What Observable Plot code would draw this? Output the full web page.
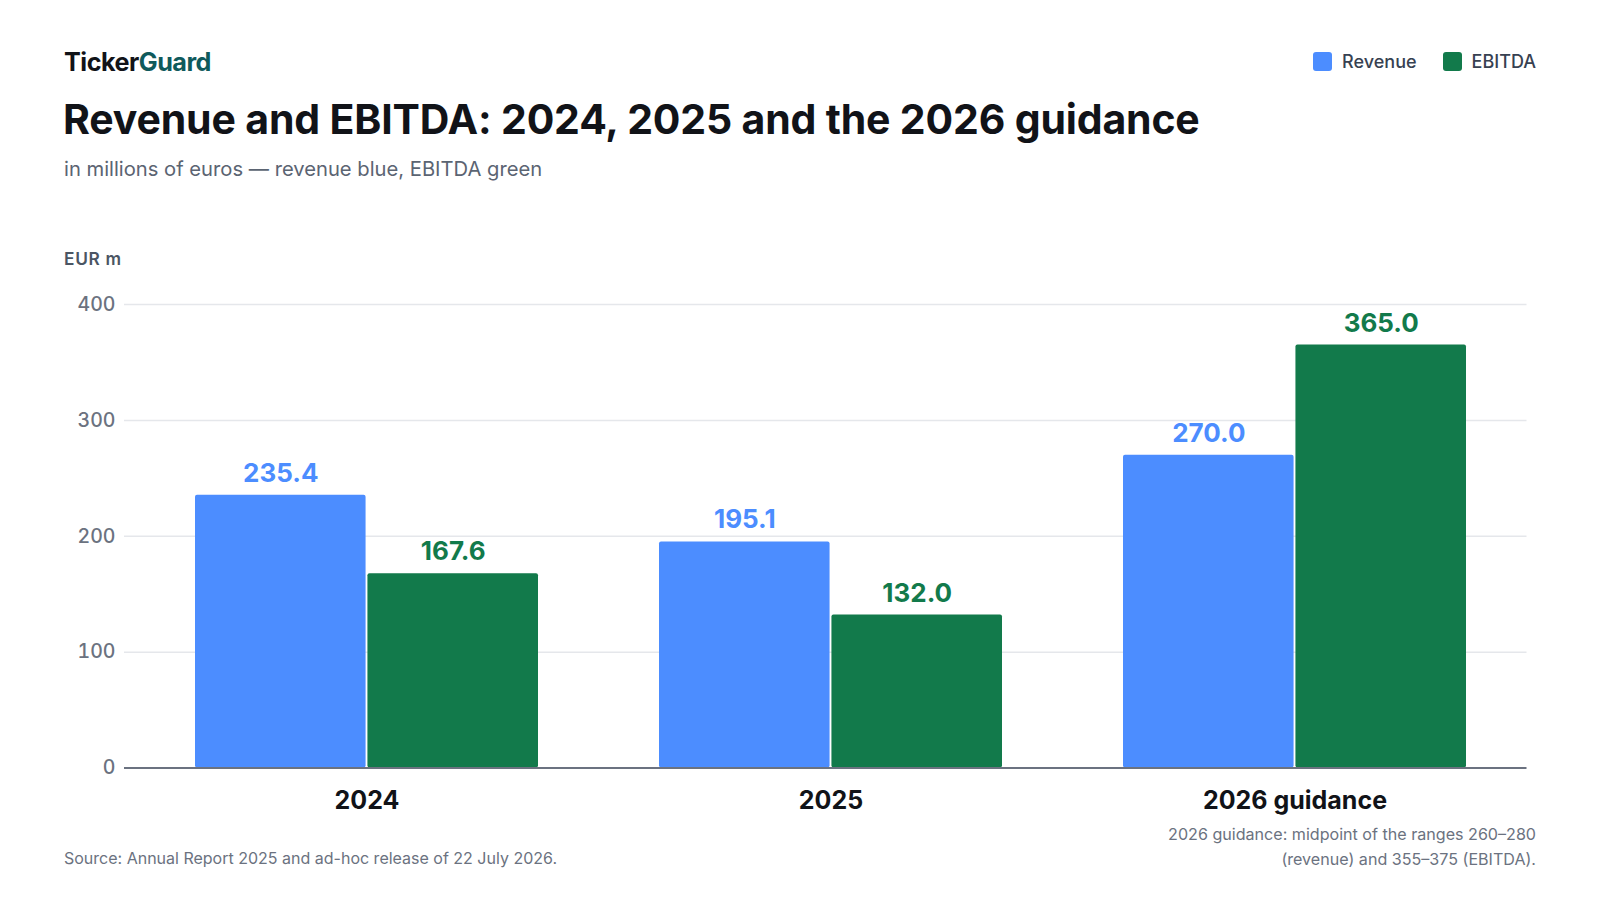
<!DOCTYPE html>
<html>
<head>
<meta charset="utf-8">
<script src="https://cdn.jsdelivr.net/npm/d3@7"></script>
<script src="https://cdn.jsdelivr.net/npm/@observablehq/plot@0.6"></script>
<style>
  html, body { margin: 0; padding: 0; background: #fff; }
  body { font-family: Inter, "Noto Sans", sans-serif; }
  #page { position: relative; width: 1600px; height: 900px; overflow: hidden; background: #fff; }
  .abs { position: absolute; white-space: nowrap; }
  #brand { left: 64px; top: 47px; font-size: 25.2px; font-weight: 700; color: #111318; letter-spacing: -0.02em; }
  #brand span { color: #0f5a5c; }
  #title { left: 63px; top: 94px; font-size: 41px; font-weight: 700; color: #111318; letter-spacing: -0.004em; }
  #subtitle { left: 64px; top: 156px; font-size: 20.2px; color: #5b6472; }
  #unit { left: 64px; top: 248px; font-size: 17.3px; font-weight: 600; color: #4b5563; letter-spacing: 0.04em; }
  #legend { right: 64px; top: 51px; display: flex; align-items: center; font-size: 18px; font-weight: 500; color: #374151; }
  .sw { width: 19px; height: 19px; border-radius: 3px; display: inline-block; margin-right: 10px; }
  .li { display: flex; align-items: center; }
  .li + .li { margin-left: 26px; }
  #source { left: 64px; top: 848px; font-size: 16px; color: #6b7280; }
  #note { right: 64px; top: 822px; font-size: 16.1px; color: #6b7280; text-align: right; line-height: 25px; }
  #chart { position: absolute; left: 0; top: 270px; }
</style>
</head>
<body>
<div id="page">
  <div id="brand" class="abs">Ticker<span>Guard</span></div>
  <div id="title" class="abs">Revenue and EBITDA: 2024, 2025 and the 2026 guidance</div>
  <div id="subtitle" class="abs">in millions of euros — revenue blue, EBITDA green</div>
  <div id="legend" class="abs"></div>
  <div id="unit" class="abs">EUR m</div>
  <div id="chart"></div>
  <div id="source" class="abs">Source: Annual Report 2025 and ad-hoc release of 22 July 2026.</div>
  <div id="note" class="abs">2026 guidance: midpoint of the ranges 260–280<br>(revenue) and 355–375 (EBITDA).</div>
</div>
<script>
// ---- data ----
const categories = ["2024", "2025", "2026 guidance"];
const seriesNames = ["Revenue", "EBITDA"];
const revenue = [235.4, 195.1, 270.0];
const ebitda = [167.6, 132.0, 365.0];
const yTicks = [0, 100, 200, 300, 400];
const seriesColors = ["#4c8dff", "#127a4b"];

const rows = [];
categories.forEach((c, i) => {
  rows.push({cat: c, series: "Revenue", value: revenue[i]});
  rows.push({cat: c, series: "EBITDA", value: ebitda[i]});
});
const revRows = rows.filter(d => d.series === "Revenue");
const ebRows = rows.filter(d => d.series === "EBITDA");

// ---- legend ----
const legend = document.getElementById("legend");
seriesNames.forEach((s, i) => {
  const li = document.createElement("div");
  li.className = "li";
  li.innerHTML = `<span class="sw" style="background:${seriesColors[i]}"></span>${s}`;
  legend.appendChild(li);
});

// ---- layout ----
const W = 1600, H = 558;
const mL = 124, mR = 73.5, mT = 34, mB = 60.5, xInset = 9.5;
const pInner = 0.2616, pOuter = 0.1308;
const step = (W - mL - mR - xInset) / (categories.length - pInner + 2 * pOuter);
const bw = step * (1 - pInner);
const gap = 1;
const fmt = d3.format(".1f");

const chart = Plot.plot({
  width: W,
  height: H,
  marginTop: mT,
  marginBottom: mB,
  marginLeft: mL,
  marginRight: mR,
  style: {fontFamily: "Inter, sans-serif", background: "transparent", overflow: "visible"},
  x: {domain: categories, paddingInner: pInner, paddingOuter: pOuter, insetLeft: xInset, label: null},
  y: {domain: [0, 400], label: null},
  marks: [
    Plot.ruleY(yTicks.filter(d => d > 0), {stroke: "#e5e7eb", strokeWidth: 1.5}),
    Plot.barY(revRows, {x: "cat", y: "value", fill: seriesColors[0], insetRight: bw / 2 + gap, rx: 2}),
    Plot.barY(ebRows, {x: "cat", y: "value", fill: seriesColors[1], insetLeft: bw / 2 + gap, rx: 2}),
    Plot.ruleY([0], {stroke: "#6b7280", strokeWidth: 2}),
    Plot.text(revRows, {x: "cat", y: "value", text: d => fmt(d.value), dx: -(bw / 4 + gap / 2), dy: -13.5, lineAnchor: "bottom", fill: seriesColors[0], fontSize: 26, fontWeight: 700}),
    Plot.text(ebRows, {x: "cat", y: "value", text: d => fmt(d.value), dx: (bw / 4 + gap / 2), dy: -13.5, lineAnchor: "bottom", fill: seriesColors[1], fontSize: 26, fontWeight: 700}),
    Plot.axisY({ticks: yTicks, tickSize: 0, tickPadding: 9, fontSize: 19.5, fontWeight: 500, fill: "#6b7280", label: null}),
    Plot.axisX({tickSize: 0, tickPadding: 23, fontSize: 25, fontWeight: 700, fill: "#111318", label: null})
  ]
});
document.getElementById("chart").appendChild(chart);
</script>
</body>
</html>
